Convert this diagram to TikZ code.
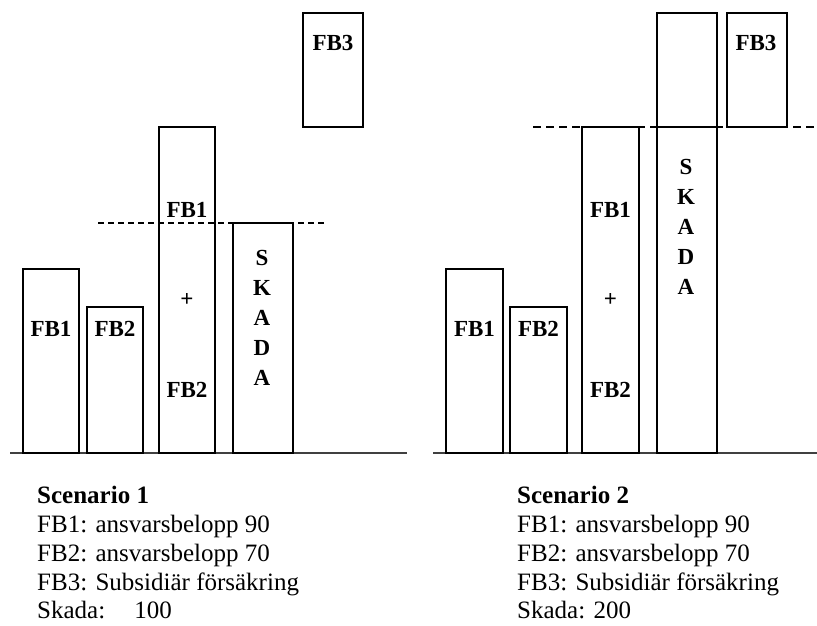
\documentclass[tikz,border=0pt]{standalone}
\usepackage{fontspec}
\setmainfont{Liberation Serif}
\begin{document}
\begin{tikzpicture}[x=1pt,y=-1pt,
  bar/.style={draw=black, line width=1.6pt},
  cut/.style={draw=black, line width=1.3pt, dash pattern=on 6pt off 4pt},
  widecut/.style={cut, dash pattern=on 8pt off 5pt},
  ground/.style={draw=black!75, line width=2pt},
  lbl/.style={font=\fontsize{23}{23}\selectfont\bfseries, inner sep=0pt},
  note/.style={font=\fontsize{25}{30}\selectfont, inner sep=0pt, anchor=base west}]
\useasboundingbox (0,0) rectangle (817,625);

% ---------- Scenario 1 ----------
\draw[ground] (10,453) -- (407,453);
\draw[bar] (23,269) rectangle (79,453);
\draw[bar] (87,307) rectangle (143,453);
\draw[bar] (159,127) rectangle (215,453);
\draw[bar] (233,223) rectangle (293,453);
\draw[bar] (303,13) rectangle (363,127);
\draw[cut] (98,223) -- (325,223);

\node[lbl] (a1) at (51,329) {FB1};
\node[lbl] (a2) at (115,329) {FB2};
\node[lbl] (a3) at (187,210) {FB1};
\node[lbl] (a4) at (187,300) {+};
\node[lbl] (a5) at (187,390) {FB2};
\node[lbl] (a6) at (333,43) {FB3};
\foreach \c [count=\i] in {S,K,A,D,A}
  \node[lbl] (as\i) at (262,228+30*\i) {\c};

% ---------- Scenario 2 ----------
\draw[ground] (433,453) -- (817,453);
\draw[bar] (446,269) rectangle (503,453);
\draw[bar] (510,307) rectangle (567,453);
\draw[bar] (582,127) rectangle (639,453);
\draw[bar] (657,127) rectangle (717,453);
\draw[bar] (657,13) rectangle (717,127);
\draw[bar] (727,13) rectangle (787,127);
\draw[widecut] (533,127) -- (817,127);

\node[lbl] (b1) at (474.5,329) {FB1};
\node[lbl] (b2) at (538.5,329) {FB2};
\node[lbl] (b3) at (610.5,210) {FB1};
\node[lbl] (b4) at (610.5,300) {+};
\node[lbl] (b5) at (610.5,390) {FB2};
\node[lbl] (b6) at (756,43) {FB3};
\foreach \c [count=\i] in {S,K,A,D,A}
  \node[lbl] (bs\i) at (686,137+30*\i) {\c};

% ---------- captions ----------
\node[note] (t1) at (37,503) {\textbf{Scenario 1}};
\node[note] (t2) at (37,532) {FB1: ansvarsbelopp 90};
\node[note] (t3) at (37,561) {FB2: ansvarsbelopp 70};
\node[note] (t4) at (37,590) {FB3: Subsidiär försäkring};
\node[note] (t5) at (37,618) {Skada:\hspace*{29pt}100};

\node[note] (u1) at (517,503) {\textbf{Scenario 2}};
\node[note] (u2) at (517,532) {FB1: ansvarsbelopp 90};
\node[note] (u3) at (517,561) {FB2: ansvarsbelopp 70};
\node[note] (u4) at (517,590) {FB3: Subsidiär försäkring};
\node[note] (u5) at (517,618) {Skada: 200};
\end{tikzpicture}
\end{document}
